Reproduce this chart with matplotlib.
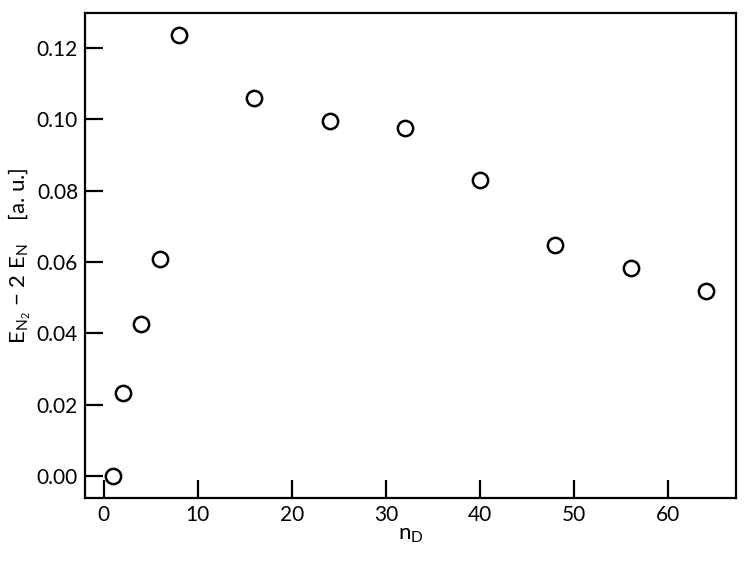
import matplotlib.pyplot as plt

# datos
n_D = [1, 2, 4, 6, 8, 16, 24, 32, 40, 48, 56, 64]
deltaE = [0.0000, 0.0233, 0.0425, 0.0607, 0.1237, 0.1061,
          0.0994, 0.0976, 0.0830, 0.0648, 0.0584, 0.0519]
xticks = [0, 10, 20, 30, 40, 50, 60]
yticks = [0.00, 0.02, 0.04, 0.06, 0.08, 0.10, 0.12]

plt.rcParams['font.family'] = ['Lato', 'DejaVu Sans']
plt.rcParams['mathtext.fontset'] = 'custom'
plt.rcParams['mathtext.rm'] = 'Lato'
plt.rcParams['mathtext.it'] = 'Lato'

fig = plt.figure(figsize=(7.5, 5.66), dpi=100)
ax = fig.add_axes([85/750, 68/566, 651/750, 485/566])

ax.plot(n_D, deltaE, linestyle='none', marker='o', markersize=11,
        markerfacecolor='white', markeredgecolor='black', markeredgewidth=1.8)

ax.set_xlim(-2, 67.2)
ax.set_ylim(-0.0062, 0.1298)
ax.set_xticks(xticks)
ax.set_yticks(yticks)
ax.set_xticklabels([str(t) for t in xticks])
ax.set_yticklabels([f'{t:.2f}' for t in yticks])

ax.tick_params(direction='in', length=13, width=1.6, labelsize=15, pad=5)
for s in ax.spines.values():
    s.set_linewidth(1.6)

ax.set_xlabel(r'n$_\mathrm{D}$', fontsize=16, labelpad=0)
ax.set_ylabel(r'E$_{\mathrm{N}_2}$ $-$ 2 E$_\mathrm{N}$    [a. u.]', fontsize=16, labelpad=3)

fig.savefig('out.png', dpi=100)
